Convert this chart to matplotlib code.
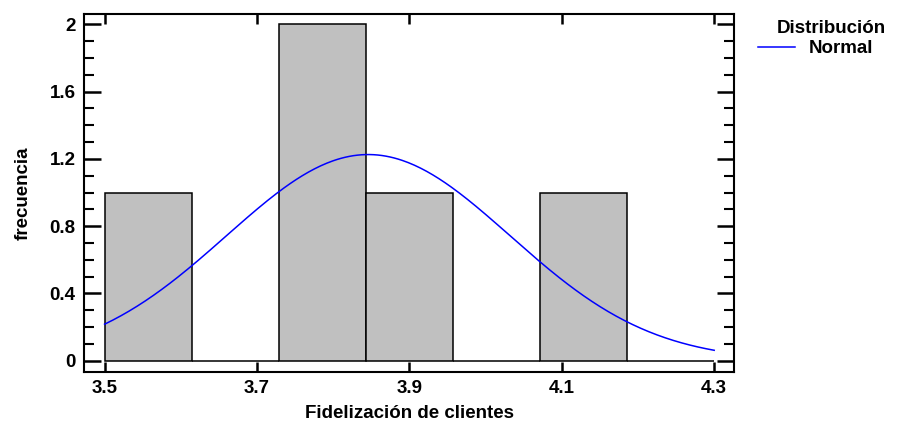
import numpy as np
import matplotlib
matplotlib.use('Agg')
import matplotlib.pyplot as plt
from matplotlib.ticker import MultipleLocator

# Histograma de frecuencias: 7 clases entre 3.5 y 4.3
bin_edges = [3.5, 3.6143, 3.7286, 3.8429, 3.9571, 4.0714, 4.1857, 4.3]
frecuencias = [1, 0, 2, 1, 0, 1, 0]
n_obs = 5

# Parámetros de la distribución normal ajustada
media = 3.846
desv = 0.186

x_ticks = [3.5, 3.7, 3.9, 4.1, 4.3]
y_ticks = [0, 0.4, 0.8, 1.2, 1.6, 2]

plt.rcParams['font.family'] = ['Liberation Sans', 'DejaVu Sans']
plt.rcParams['font.weight'] = 'bold'
fs = 13.5

fig = plt.figure(figsize=(8.97, 4.23), dpi=100)
ax = fig.add_axes([84 / 897, 1 - 371.7 / 423, 650 / 897, 357.7 / 423])

# barras del histograma
edges = np.array(bin_edges)
widths = np.diff(edges)
ax.bar(edges[:-1], frecuencias, width=widths, align='edge',
       color='#C0C0C0', edgecolor='black', linewidth=1.1, zorder=2)

# curva normal escalada a frecuencias
ancho = widths.mean()
xs = np.linspace(3.5, 4.3, 300)
ys = n_obs * ancho * np.exp(-0.5 * ((xs - media) / desv) ** 2) / (desv * np.sqrt(2 * np.pi))
ax.plot(xs, ys, color='#0000FF', linewidth=1.1, label='Normal', zorder=3)

ax.set_xlim(3.473, 4.326)
ax.set_ylim(-0.065, 2.061)
ax.set_xticks(x_ticks)
ax.set_xticklabels([f'{v:g}' for v in x_ticks])
ax.set_yticks(y_ticks)
ax.set_yticklabels([f'{v:g}' for v in y_ticks])
ax.yaxis.set_minor_locator(MultipleLocator(0.1))

for s in ax.spines.values():
    s.set_linewidth(1.5)
ax.tick_params(axis='x', which='major', direction='in', length=7, width=1.8,
               top=True, labelsize=fs, pad=6)
ax.tick_params(axis='y', which='major', direction='in', length=12, width=1.8,
               right=True, labelsize=fs, pad=6)
ax.tick_params(axis='y', which='minor', direction='in', length=7, width=1.5,
               right=True)

ax.set_xlabel('Fidelización de clientes', fontsize=fs, fontweight='bold')
ax.xaxis.set_label_coords(0.5, -0.094)
ax.set_ylabel('frecuencia', fontsize=fs, fontweight='bold')
ax.yaxis.set_label_coords(-0.080, 0.5)

# leyenda
fig.text(777 / 897, 1 - 33.3 / 423, 'Distribución', fontsize=fs,
         fontweight='bold', va='baseline', ha='left')
fig.legend(loc='upper left', bbox_to_anchor=(758 / 897, 1 - 40 / 423),
           frameon=False, handlelength=1.95, handletextpad=0.75,
           borderpad=0, borderaxespad=0, prop={'weight': 'bold', 'size': fs})

fig.savefig('out.png', dpi=100)
